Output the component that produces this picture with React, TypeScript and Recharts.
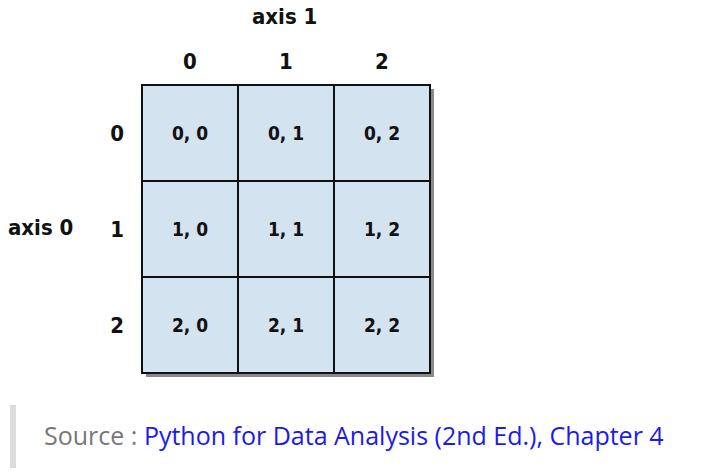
import { ScatterChart, Scatter, XAxis, YAxis } from "recharts";

const indices = [0, 1, 2];
const cells = indices.flatMap((r) => indices.map((c) => ({ x: c + 0.5, y: r + 0.5, label: `${r}, ${c}` })));
const tickPos = [0.5, 1.5, 2.5];

const FONT = "'Liberation Sans Narrow', 'DejaVu Sans Condensed', 'DejaVu Sans', sans-serif";

const Cell = (props: any) => {
  const { cx, cy, payload } = props;
  const s = 96;
  return (
    <g>
      <rect x={cx - s / 2 + 4} y={cy - s / 2 + 4} width={s} height={s} fill="#8a8a8a" />
      <rect x={cx - s / 2} y={cy - s / 2} width={s} height={s} fill="#d3e3ef" stroke="#111" strokeWidth={2} />
      <text x={cx} y={cy} textAnchor="middle" dominantBaseline="central" fontFamily={FONT} fontWeight="bold" fontSize={19} fill="#111" style={{ fontStretch: "condensed" }}>
        {payload.label}
      </text>
    </g>
  );
};

const tickStyle = { fontFamily: FONT, fontWeight: "bold" as const, fontSize: 22, fill: "#111" };
const titleStyle = { position: "absolute" as const, fontFamily: FONT, fontWeight: "bold", fontSize: 22, color: "#111", fontStretch: "condensed" };

export default function App() {
  return (
    <div style={{ position: "absolute", left: 0, top: 0, width: 714, height: 476, background: "#fff" }}>
      <ScatterChart width={714} height={476} margin={{ top: 45, left: 92, right: 284, bottom: 103 }}>
        <XAxis type="number" dataKey="x" orientation="top" domain={[0, 3]} ticks={tickPos} tickFormatter={(v) => String(Math.floor(v))} axisLine={false} tickLine={false} height={40} tick={tickStyle} tickMargin={10} />
        <YAxis type="number" dataKey="y" reversed domain={[0, 3]} ticks={tickPos} tickFormatter={(v) => String(Math.floor(v))} axisLine={false} tickLine={false} width={50} tick={tickStyle} tickMargin={12} />
        <Scatter data={cells} shape={Cell} isAnimationActive={false} />
      </ScatterChart>
      <div style={{ ...titleStyle, left: 252, top: 4 }}>axis 1</div>
      <div style={{ ...titleStyle, left: 8, top: 215 }}>axis 0</div>
      <div style={{ position: "absolute", left: 10, top: 405, width: 6, height: 63, background: "#dcdcdc" }} />
      <div style={{ position: "absolute", left: 44, top: 418, fontFamily: "'Open Sans', sans-serif", fontSize: 25, color: "#777", whiteSpace: "nowrap" }}>
        Source : <span style={{ color: "#1a1aee" }}>Python for Data Analysis (2nd Ed.), Chapter 4</span>
      </div>
    </div>
  );
}
